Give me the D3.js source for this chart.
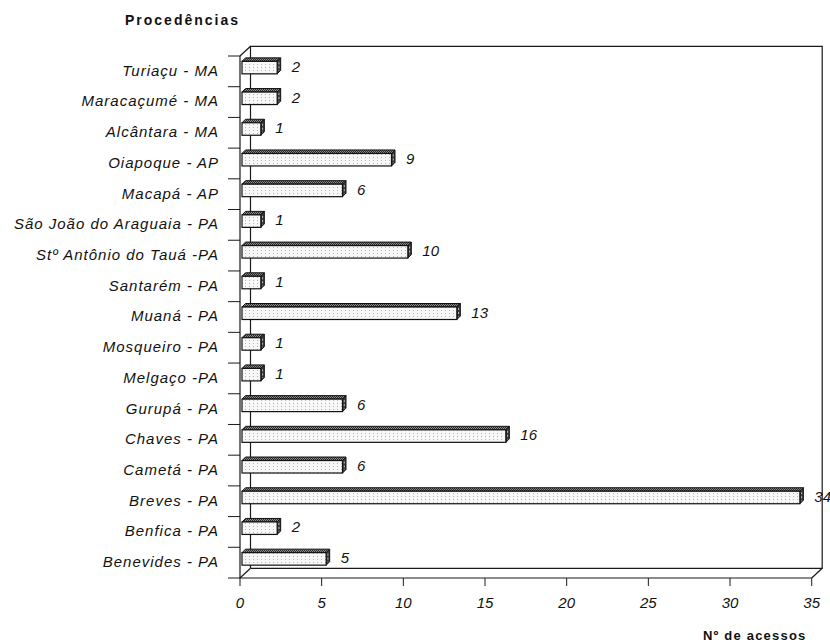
<!DOCTYPE html>
<html>
<head>
<meta charset="utf-8">
<script src="https://cdn.jsdelivr.net/npm/d3@7"></script>
<style>
  html, body { margin: 0; padding: 0; background: #fff; }
  svg { display: block; }
  text { font-family: "Liberation Sans", Arial, sans-serif; fill: #111; }
</style>
</head>
<body>
<svg id="chart" width="830" height="642"></svg>
<script>
// Origin of the visitors (procedência) and number of accesses
const categories = [
  "Turiaçu - MA",
  "Maracaçumé - MA",
  "Alcântara - MA",
  "Oiapoque - AP",
  "Macapá - AP",
  "São João do Araguaia - PA",
  "Stº Antônio do Tauá -PA",
  "Santarém - PA",
  "Muaná - PA",
  "Mosqueiro - PA",
  "Melgaço -PA",
  "Gurupá - PA",
  "Chaves - PA",
  "Cametá - PA",
  "Breves - PA",
  "Benfica - PA",
  "Benevides - PA"
];
const acessos = [2, 2, 1, 9, 6, 1, 10, 1, 13, 1, 1, 6, 16, 6, 34, 2, 5];
const xTicks = [0, 5, 10, 15, 20, 25, 30, 35];
const yTitle = "Procedências";
const xTitle = "Nº de acessos";

const svg = d3.select("#chart");

// Plot frame (front plane) and 3D depth offset of the back walls
const pLeft = 240, pRight = 811.7, pTop = 56, pBottom = 578;
const dx = 10.5, dy = -9.7;

const x = d3.scaleLinear().domain([0, 35]).range([pLeft, pRight]);
const y = d3.scaleBand().domain(categories).range([pTop, pBottom]).padding(0);

// Fill patterns giving the stippled look of the boxes
const defs = svg.append("defs");
const front = defs.append("pattern").attr("id", "pFront")
  .attr("width", 4).attr("height", 3).attr("patternUnits", "userSpaceOnUse");
front.append("rect").attr("width", 4).attr("height", 3).attr("fill", "#f7f7f7");
front.append("rect").attr("x", 1).attr("y", 1).attr("width", 1).attr("height", 1).attr("fill", "#b5b5b5");
const topP = defs.append("pattern").attr("id", "pTop")
  .attr("width", 2).attr("height", 2).attr("patternUnits", "userSpaceOnUse");
topP.append("rect").attr("width", 2).attr("height", 2).attr("fill", "#8a8a8a");
topP.append("rect").attr("width", 1).attr("height", 1).attr("fill", "#2a2a2a");
topP.append("rect").attr("x", 1).attr("y", 1).attr("width", 1).attr("height", 1).attr("fill", "#2a2a2a");

const frame = svg.append("g").attr("fill", "none").attr("stroke", "#1a1a1a").attr("stroke-width", 1.2);

// Back walls: left wall edge, top edge, right edge and floor back edge
frame.append("path").attr("d",
  `M${pLeft + dx},${pBottom + dy} V${pTop + dy} H${pRight + dx} V${pBottom + dy} H${pLeft + dx}`);
// Depth edges
frame.append("path").attr("d", `M${pLeft},${pTop} L${pLeft + dx},${pTop + dy}`);
frame.append("path").attr("d", `M${pLeft},${pBottom} L${pLeft + dx},${pBottom + dy}`);
frame.append("path").attr("d", `M${pRight},${pBottom} L${pRight + dx},${pBottom + dy}`);
// Front axes
frame.append("path").attr("d", `M${pLeft},${pTop} V${pBottom} H${pRight}`);

// Category tick marks at band boundaries
const bounds = categories.map(c => y(c)).concat([pBottom]);
frame.selectAll("line.ytick").data(bounds).join("line")
  .attr("class", "ytick")
  .attr("x1", pLeft - 12).attr("x2", pLeft)
  .attr("y1", d => d).attr("y2", d => d)
  .attr("stroke-width", 1);

// Value axis ticks and labels
const xAxis = svg.append("g");
xAxis.selectAll("line").data(xTicks).join("line")
  .attr("x1", d => x(d)).attr("x2", d => x(d))
  .attr("y1", pBottom).attr("y2", pBottom + 8)
  .attr("stroke", "#1a1a1a").attr("stroke-width", 1);
xAxis.selectAll("text").data(xTicks).join("text")
  .attr("x", d => x(d)).attr("y", pBottom + 30)
  .attr("text-anchor", "middle")
  .attr("font-size", 15).attr("font-style", "italic")
  .text(d => d);

// Category labels
svg.append("g").selectAll("text").data(categories).join("text")
  .attr("x", 219).attr("y", d => y(d) + y.bandwidth() / 2 + 4.4)
  .attr("text-anchor", "end")
  .attr("font-size", 15).attr("font-style", "italic")
  .attr("letter-spacing", "1px")
  .text(d => d);

// Bars as small 3D boxes
const bd = 3.5; // bar depth
const bars = svg.append("g").selectAll("g").data(categories.map((c, i) => ({ c, v: acessos[i] }))).join("g");
bars.each(function (d) {
  const g = d3.select(this);
  const c = y(d.c) + y.bandwidth() / 2;
  const x0 = pLeft + 2, x1 = x(d.v) + 4.5;
  const yt = c - 10, yb = c + 2.5;
  g.append("path") // top face
    .attr("d", `M${x0},${yt} L${x0 + bd},${yt - bd} L${x1 + bd},${yt - bd} L${x1},${yt} Z`)
    .attr("fill", "url(#pTop)").attr("stroke", "#111").attr("stroke-width", 1);
  g.append("path") // side face
    .attr("d", `M${x1},${yt} L${x1 + bd},${yt - bd} L${x1 + bd},${yb - bd} L${x1},${yb} Z`)
    .attr("fill", "#3a3a3a").attr("stroke", "#111").attr("stroke-width", 1);
  g.append("line")
    .attr("x1", x1 + bd / 2).attr("x2", x1 + bd / 2)
    .attr("y1", yt + 1).attr("y2", yb - 3)
    .attr("stroke", "#ddd").attr("stroke-width", 0.8).attr("stroke-dasharray", "2,2");
  g.append("rect") // front face
    .attr("x", x0).attr("y", yt).attr("width", x1 - x0).attr("height", yb - yt)
    .attr("fill", "url(#pFront)").attr("stroke", "#111").attr("stroke-width", 1.2);
  g.append("text")
    .attr("x", x1 + bd + 11).attr("y", c + 0.5)
    .attr("font-size", 15).attr("font-style", "italic")
    .text(d.v);
});

// Axis titles
svg.append("text").attr("x", 125).attr("y", 25)
  .attr("font-size", 14).attr("font-weight", "bold").attr("letter-spacing", "2px")
  .text(yTitle);
svg.append("text").attr("x", 703).attr("y", 640)
  .attr("font-size", 13).attr("font-weight", "bold").attr("letter-spacing", "1.2px")
  .text(xTitle);
</script>
</body>
</html>
